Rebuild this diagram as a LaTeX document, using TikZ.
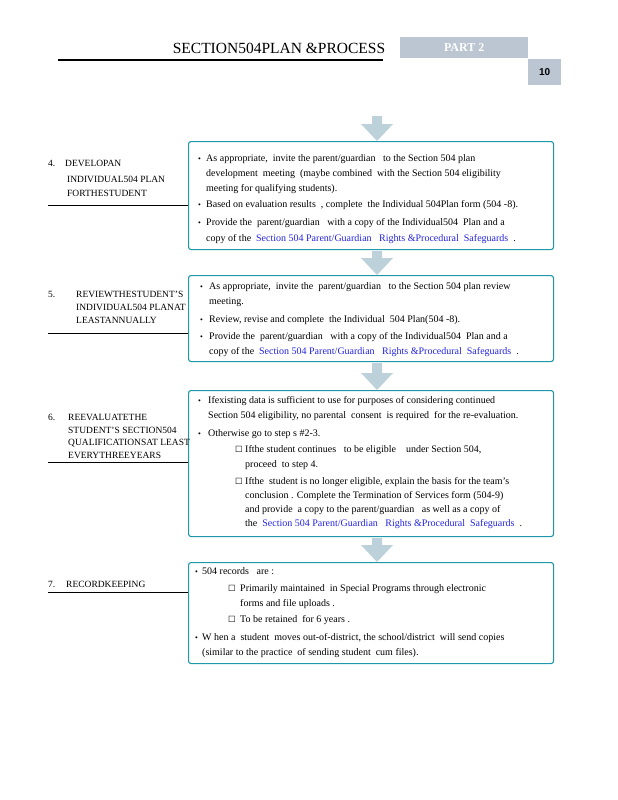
\documentclass[tikz,border=0pt]{standalone}
\usepackage{fontspec}
\setmainfont{Liberation Serif}
\newfontfamily\sansb{Liberation Sans}
\newfontfamily\dejavu{DejaVu Sans}
\usetikzlibrary{calc}
\definecolor{teal1}{RGB}{31,151,168}
\definecolor{arrowc}{RGB}{189,209,219}
\definecolor{partgray}{RGB}{188,198,211}
\definecolor{blue1}{RGB}{35,35,225}
\newcounter{tl}
\newcommand\tline[4][txt]{\stepcounter{tl}\node[#1] (tl\arabic{tl}) at (#2,#3) {#4};}
\newcommand\bul[2]{\stepcounter{tl}\node[bulstyle] (bu\arabic{tl}) at (#1,#2) {\textbullet};}
\newcommand\chk[2]{\stepcounter{tl}\node[chkstyle] (ck\arabic{tl}) at (#1,#2) {☐};}
\newcommand\dnarrow[2]{\fill[arr] ($(#1)+(-5,0)$) -- ($(#2)+(-5,-17)$) -- ($(#2)+(-16,-17)$) -- (#2) -- ($(#2)+(16,-17)$) -- ($(#2)+(5,-17)$) -- ($(#1)+(5,0)$) -- cycle;}
\begin{document}
\begin{tikzpicture}[x=1pt,y=-1pt,
  box/.style={draw=teal1, line width=1.1pt, rounded corners=2.5pt, anchor=north west, inner sep=0},
  txt/.style={anchor=mid west, inner sep=0, font=\fontsize{10}{12}\selectfont},
  lbl/.style={anchor=mid west, inner sep=0, font=\fontsize{9.5}{11}\selectfont},
  bulstyle/.style={anchor=mid west, inner sep=0, font=\fontsize{8}{9}\selectfont},
  chkstyle/.style={anchor=mid west, inner sep=0, font=\dejavu\fontsize{8.5}{10}\selectfont},
  arr/.style={fill=arrowc},
  uline/.style={line width=0.9pt}]
\useasboundingbox (0,0) rectangle (618,800);
% header
\node[anchor=base, inner sep=0, font=\fontsize{15.5}{18}\selectfont] (title) at (279,53) {SECTION504PLAN \&PROCESS};
\coordinate (ul0) at (58,60);
\draw[line width=1.6pt] (ul0) -- (383,60);
\node[fill=partgray, minimum width=128pt, minimum height=21pt, anchor=north west, inner sep=0, font=\bfseries\fontsize{12}{14}\selectfont, text=white] (part) at (400,37) {PART 2};
\node[fill=partgray, minimum width=33pt, minimum height=26pt, anchor=north west, inner sep=0, font=\sansb\bfseries\fontsize{10}{12}\selectfont] (pg) at (528,59) {10};
% boxes
\node[box, minimum width=365pt, minimum height=108pt] (b1) at (188,141) {};
\node[box, minimum width=365pt, minimum height=86pt] (b2) at (188,275) {};
\node[box, minimum width=365pt, minimum height=146pt] (b3) at (188,390) {};
\node[box, minimum width=365pt, minimum height=101pt] (b4) at (188,562) {};
% arrows
\coordinate (a0) at (377,116);
\coordinate (a0t) at (a0 |- b1.north);
\coordinate (a1s) at ($(a0 |- b1.south)+(0,1)$);
\coordinate (a1t) at (a0 |- b2.north);
\coordinate (a2s) at ($(a0 |- b2.south)+(0,1)$);
\coordinate (a2t) at (a0 |- b3.north);
\coordinate (a3s) at ($(a0 |- b3.south)+(0,1)$);
\coordinate (a3t) at (a0 |- b4.north);
\dnarrow{a0}{a0t}
\dnarrow{a1s}{a1t}
\dnarrow{a2s}{a2t}
\dnarrow{a3s}{a3t}
% left labels
\tline[lbl]{48}{164}{4.}
\tline[lbl]{65}{164}{DEVELOPAN}
\tline[lbl]{67}{180}{INDIVIDUAL504 PLAN}
\tline[lbl]{67}{194}{FORTHESTUDENT}
\coordinate (u1) at (48,205);
\draw[uline] (u1) -- (u1 -| b1.west);
\tline[lbl]{48}{295}{5.}
\tline[lbl]{76}{295}{REVIEWTHESTUDENT’S}
\tline[lbl]{76}{308}{INDIVIDUAL504 PLANAT}
\tline[lbl]{76}{321}{LEASTANNUALLY}
\coordinate (u2) at (48,333);
\draw[uline] (u2) -- (u2 -| b2.west);
\tline[lbl]{48}{418}{6.}
\tline[lbl]{68}{418}{REEVALUATETHE}
\tline[lbl]{68}{431}{STUDENT’S SECTION504}
\tline[lbl]{68}{443}{QUALIFICATIONSAT LEAST}
\tline[lbl]{68}{456}{EVERYTHREEYEARS}
\coordinate (u3) at (48,462);
\draw[uline] (u3) -- (u3 -| b3.west);
\tline[lbl]{48}{585}{7.}
\tline[lbl]{66}{585}{RECORDKEEPING}
\coordinate (u4) at (48,592);
\draw[uline] (u4) -- (u4 -| b4.west);
% box 1 text
\bul{198}{159}
\tline{206}{159}{As appropriate,\ \ invite the parent/guardian\ \ \ to the Section 504 plan}
\tline{206}{174}{development\ \ meeting\ \ (maybe combined\ \ with the Section 504 eligibility}
\tline{206}{189}{meeting for qualifying students).}
\bul{198}{205}
\tline{206}{205}{Based on evaluation results\ \ , complete\ \ the Individual 504Plan form (504 -8).}
\bul{198}{223}
\tline{206}{223}{Provide the\ \ parent/guardian\ \ \ with a copy of the Individual504\ \ Plan and\ a}
\tline{206}{239}{copy of the\ \ \textcolor{blue1}{Section 504 Parent/Guardian\ \ \ Rights \&Procedural\ \ Safeguards}\ \ .}
% box 2 text
\bul{200}{287}
\tline{209}{287}{As appropriate,\ \ invite the\ \ parent/guardian\ \ \ to the Section 504 plan review}
\tline{209}{302}{meeting.}
\bul{200}{320}
\tline{209}{320}{Review, revise\ and complete\ \ the Individual\ \ 504 Plan(504 -8).}
\bul{200}{337}
\tline{209}{337}{Provide the\ \ parent/guardian\ \ \ with a copy of the Individual504\ \ Plan and\ a}
\tline{209}{352}{copy of the\ \ \textcolor{blue1}{Section 504 Parent/Guardian\ \ \ Rights \&Procedural\ \ Safeguards}\ \ .}
% box 3 text
\bul{198}{401}
\tline{208}{401}{Ifexisting data\ is sufficient\ to use for purposes\ of considering\ continued}
\tline{208}{416}{Section 504 eligibility, no parental\ \ consent\ \ is required\ \ for the\ re-evaluation.}
\bul{198}{434}
\tline{208}{434}{Otherwise\ go to step\ s \#2-3.}
\chk{235}{450}
\tline{245}{450}{Ifthe\ student\ continues\ \ \ to be eligible\ \ \ \ under Section 504,}
\tline{245}{465}{proceed\ \ to step\ 4.}
\chk{235}{482}
\tline{245}{482}{Ifthe\ \ student\ is no longer\ eligible, explain the basis\ for the\ team’s}
\tline{245}{496}{conclusion\ . Complete\ the\ Termination\ of Services form\ (504-9)}
\tline{245}{510}{and provide\ \ a copy to the\ parent/guardian\ \ \ as well as a copy\ of}
\tline{245}{524}{the\ \ \textcolor{blue1}{Section 504 Parent/Guardian\ \ \ Rights \&Procedural\ \ Safeguards}\ \ .}
% box 4 text
\bul{195}{572}
\tline{202}{572}{504 records\ \ \ are\ :}
\chk{228}{589}
\tline{240}{589}{Primarily maintained\ \ in Special Programs\ through\ electronic}
\tline{240}{604}{forms\ and\ file uploads\ .}
\chk{228}{620}
\tline{240}{620}{To be\ retained\ \ for 6 years\ .}
\bul{195}{638}
\tline{202}{638}{W hen a\ \ student\ \ moves\ out-of-district, the school/district\ \ will send copies}
\tline{202}{653}{(similar to the practice\ \ of sending\ student\ \ cum files).}
\end{tikzpicture}
\end{document}
